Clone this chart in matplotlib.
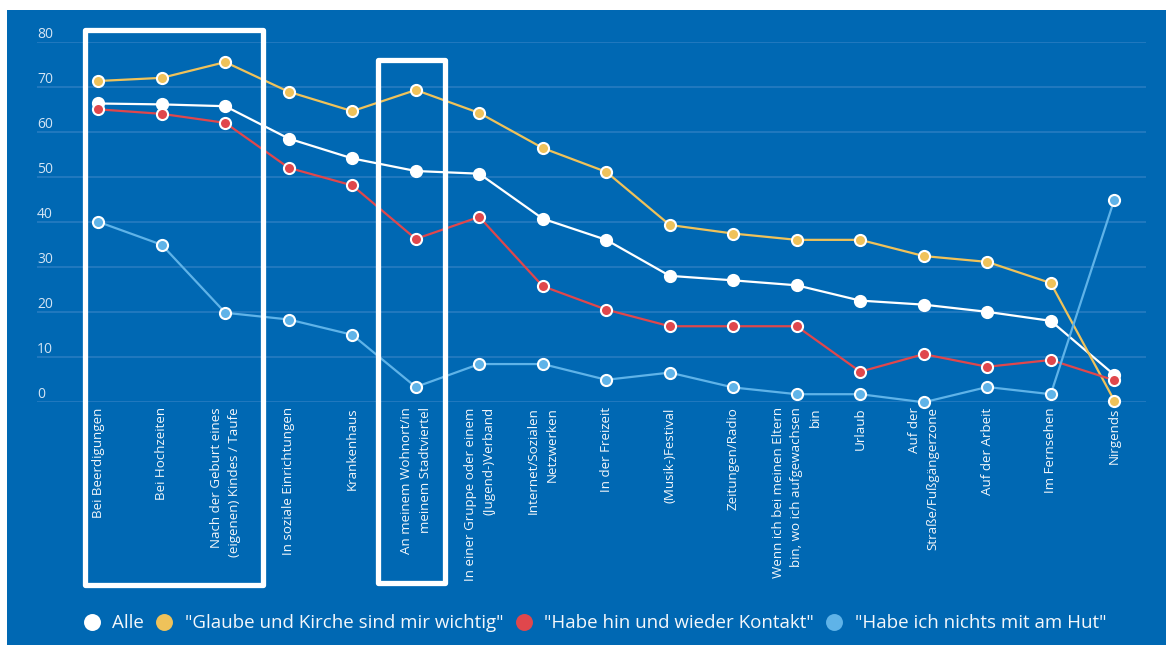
import matplotlib
matplotlib.use("Agg")
import matplotlib.pyplot as plt
import matplotlib.transforms as mtransforms
from matplotlib.lines import Line2D
from matplotlib.patches import Rectangle

plt.rcParams['font.family'] = ['Open Sans', 'DejaVu Sans']

# categories (x axis), line breaks as in the original chart
categories = [
    "Bei Beerdigungen",
    "Bei Hochzeiten",
    "Nach der Geburt eines\n(eigenen) Kindes / Taufe",
    "In soziale Einrichtungen",
    "Krankenhaus",
    "An meinem Wohnort/in\nmeinem Stadtviertel",
    "In einer Gruppe oder einem\n(Jugend-)Verband",
    "Internet/Sozialen\nNetzwerken",
    "In der Freizeit",
    "(Musik-)Festival",
    "Zeitungen/Radio",
    "Wenn ich bei meinen Eltern\nbin, wo ich aufgewachsen\nbin",
    "Urlaub",
    "Auf der\nStraße/Fußgängerzone",
    "Auf der Arbeit",
    "Im Fernsehen",
    "Nirgends",
]

alle = [66.4, 66.2, 65.8, 58.6, 54.2, 51.4, 50.8, 40.8, 36.1, 28.1, 27.1, 26.0, 22.6, 21.7, 20.1, 18.1, 6.1]
glaube = [71.4, 72.1, 75.6, 69.0, 64.7, 69.4, 64.3, 56.5, 51.2, 39.4, 37.5, 36.1, 36.1, 32.5, 31.2, 26.5, 0.4]
kontakt = [65.1, 64.1, 62.1, 52.1, 48.2, 36.3, 41.2, 25.8, 20.6, 16.9, 16.9, 16.9, 6.8, 10.7, 7.9, 9.4, 4.9]
nichts = [40.1, 35.0, 19.9, 18.4, 15.0, 3.4, 8.5, 8.5, 5.0, 6.6, 3.3, 1.8, 1.8, 0.0, 3.4, 1.8, 45.0]

series_names = ['Alle', '"Glaube und Kirche sind mir wichtig"',
                '"Habe hin und wieder Kontakt"', '"Habe ich nichts mit am Hut"']
series_colors = ['#ffffff', '#efc25a', '#e0474c', '#5fb3e8']
y_ticks = [0, 10, 20, 30, 40, 50, 60, 70, 80]

bg = '#0068b3'
grid_color = '#2b7dc2'

W, H = 1166, 645
fig = plt.figure(figsize=(W / 100, H / 100), dpi=100, facecolor='white')

# blue panel (screenshot leaves a thin white strip on top and left)
fig.add_artist(Rectangle((7 / W, 0), 1, 1 - 9.5 / H, transform=fig.transFigure,
                         facecolor=bg, edgecolor='none', zorder=0))

ax = fig.add_axes([37 / W, (H - 402.3) / H, 1109 / W, 360 / H])
ax.set_facecolor(bg)
ax.patch.set_alpha(0)
for s in ax.spines.values():
    s.set_visible(False)

x = list(range(len(categories)))
all_series = [alle, glaube, kontakt, nichts]
for i, (vals, name, col) in enumerate(zip(all_series, series_names, series_colors)):
    ax.plot(x, vals, color=col, lw=1.6, marker='o', ms=8, mfc=col, mec='white',
            mew=1.5, clip_on=False, zorder=3 + i, label=name)

ax.set_xlim(-0.965, 16.5)
ax.set_ylim(0, 80)
ax.set_yticks(y_ticks)
ax.yaxis.grid(True, color=grid_color, lw=1.1)
ax.set_axisbelow(True)
ax.tick_params(axis='y', length=0, labelleft=False)

# y labels sit just above the grid lines
ytrans = mtransforms.offset_copy(ax.get_yaxis_transform(), fig=fig, x=0, y=4, units='dots')
for t in y_ticks:
    ax.text(0, t, str(t), transform=ytrans, ha='left', va='baseline',
            fontsize=10, color='#d3e4f4')

ax.set_xticks(x)
ax.set_xticklabels(categories, rotation=90, ha='center', va='top',
                   multialignment='right', fontsize=9.6, color='#f3f7fb',
                   linespacing=1.55)
ax.tick_params(axis='x', length=0, pad=3.6)

# white highlight boxes
for (x0, y0, x1, y1) in [(84.5, 30, 262.5, 585), (377.5, 60, 445, 583)]:
    fig.add_artist(Rectangle((x0 / W, 1 - y1 / H), (x1 - x0) / W, (y1 - y0) / H,
                             transform=fig.transFigure, fill=False,
                             edgecolor='white', lw=3.8, joinstyle='round', zorder=10))

handles = [Line2D([], [], ls='', marker='o', ms=12.2, mfc=c, mec='none')
           for c in series_colors]
fig.legend(handles, series_names, loc='center left', bbox_to_anchor=(83 / W, (H - 623.3) / H),
           ncol=4, frameon=False, fontsize=13.5, labelcolor='#f3f7fb',
           handlelength=0.95, handletextpad=0.62, columnspacing=0.6,
           borderpad=0, borderaxespad=0)

fig.savefig('out.png', dpi=100, facecolor=fig.get_facecolor())
